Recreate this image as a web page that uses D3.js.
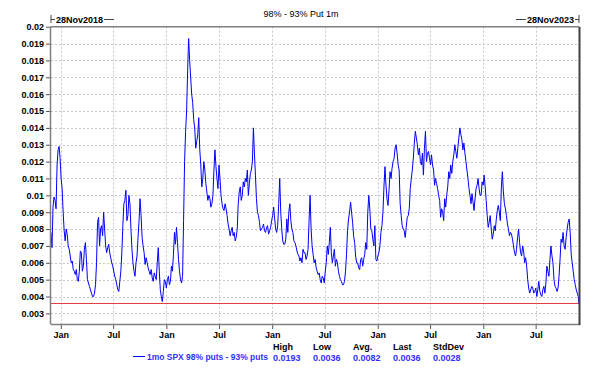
<!DOCTYPE html>
<html><head><meta charset="utf-8">
<script src="https://cdn.jsdelivr.net/npm/d3@7"></script>
<style>
html,body{margin:0;padding:0;background:#fff;}
svg text{font-family:"Liberation Sans",Arial,sans-serif;}
</style></head>
<body>
<svg id="c" width="602" height="377"></svg>
<script>
const title = "98% - 93% Put 1m";
const startLabel = "28Nov2018";
const endLabel = "28Nov2023";
const seriesName = "1mo SPX 98% puts - 93% puts";
const statNames = ["High", "Low", "Avg.", "Last", "StdDev"];
const statValues = ["0.0193", "0.0036", "0.0082", "0.0036", "0.0028"];
const yTickValues = [0.003,0.004,0.005,0.006,0.007,0.008,0.009,0.010,0.011,0.012,0.013,0.014,0.015,0.016,0.017,0.018,0.019,0.020];
const lastLevel = 0.0036;
const startDate = "2018-11-28";
const endDate = "2023-11-28";
// readings at each week start (Wednesdays from 28 Nov 2018)
const values = [
0.0078,0.0093,0.0097,0.0118,0.0129,0.0110,0.0090,0.0073,0.0077,0.0068,
0.0060,0.0056,0.0053,0.0050,0.0055,0.0066,0.0058,0.0072,0.0050,0.0046,
0.0042,0.0040,0.0047,0.0084,0.0070,0.0082,0.0090,0.0070,0.0069,0.0066,
0.0060,0.0055,0.0050,0.0044,0.0049,0.0066,0.0095,0.0103,0.0088,0.0095,
0.0068,0.0055,0.0060,0.0075,0.0098,0.0075,0.0066,0.0063,0.0057,0.0053,
0.0051,0.0054,0.0050,0.0069,0.0044,0.0037,0.0050,0.0045,0.0052,0.0049,
0.0055,0.0078,0.0081,0.0062,0.0050,0.0052,0.0120,0.0150,0.0193,0.0170,
0.0155,0.0140,0.0132,0.0146,0.0118,0.0110,0.0115,0.0102,0.0100,0.0093,
0.0100,0.0127,0.0110,0.0118,0.0100,0.0092,0.0095,0.0088,0.0080,0.0079,
0.0076,0.0073,0.0080,0.0102,0.0097,0.0108,0.0110,0.0115,0.0107,0.0115,
0.0140,0.0112,0.0090,0.0084,0.0080,0.0083,0.0078,0.0082,0.0079,0.0085,
0.0093,0.0080,0.0082,0.0110,0.0080,0.0071,0.0074,0.0078,0.0095,0.0080,
0.0073,0.0070,0.0065,0.0061,0.0060,0.0066,0.0062,0.0068,0.0100,0.0070,
0.0060,0.0057,0.0053,0.0050,0.0052,0.0048,0.0060,0.0065,0.0081,0.0060,
0.0068,0.0062,0.0055,0.0050,0.0047,0.0049,0.0065,0.0086,0.0096,0.0084,
0.0072,0.0060,0.0057,0.0062,0.0058,0.0065,0.0068,0.0100,0.0080,0.0074,
0.0082,0.0061,0.0066,0.0078,0.0090,0.0117,0.0098,0.0103,0.0110,0.0120,
0.0128,0.0125,0.0115,0.0088,0.0080,0.0075,0.0087,0.0092,0.0110,0.0122,
0.0138,0.0130,0.0128,0.0118,0.0112,0.0138,0.0125,0.0122,0.0124,0.0115,
0.0110,0.0104,0.0097,0.0092,0.0085,0.0093,0.0105,0.0110,0.0113,0.0124,
0.0126,0.0128,0.0140,0.0133,0.0131,0.0120,0.0110,0.0100,0.0101,0.0091,
0.0104,0.0110,0.0100,0.0108,0.0112,0.0097,0.0081,0.0088,0.0074,0.0082,
0.0086,0.0094,0.0085,0.0114,0.0095,0.0088,0.0080,0.0078,0.0074,0.0066,
0.0068,0.0080,0.0066,0.0070,0.0060,0.0058,0.0045,0.0044,0.0045,0.0043,
0.0040,0.0049,0.0041,0.0044,0.0042,0.0058,0.0052,0.0070,0.0060,0.0046,
0.0043,0.0052,0.0074,0.0078,0.0068,0.0080,0.0086,0.0065,0.0055,0.0047,
0.0042,0.0036
];
// readings half a week later (the other extreme of each week's swing)
const midValues = [
0.0069,0.0099,0.0092,0.0127,0.0122,0.0104,0.0079,0.0080,0.0070,0.0064,
0.0061,0.0055,0.0056,0.0049,0.0067,0.0055,0.0068,0.0062,0.0048,0.0044,
0.0040,0.0042,0.0060,0.0087,0.0080,0.0076,0.0080,0.0066,0.0071,0.0063,
0.0058,0.0052,0.0047,0.0043,0.0055,0.0082,0.0097,0.0085,0.0100,0.0080,
0.0060,0.0052,0.0064,0.0085,0.0088,0.0070,0.0059,0.0060,0.0055,0.0056,
0.0049,0.0052,0.0060,0.0055,0.0040,0.0043,0.0049,0.0050,0.0047,0.0058,
0.0065,0.0071,0.0072,0.0055,0.0048,0.0085,0.0138,0.0174,0.0180,0.0160,
0.0145,0.0128,0.0136,0.0127,0.0105,0.0120,0.0107,0.0097,0.0098,0.0095,
0.0115,0.0117,0.0104,0.0110,0.0095,0.0091,0.0092,0.0083,0.0076,0.0081,
0.0078,0.0075,0.0095,0.0105,0.0100,0.0105,0.0108,0.0100,0.0113,0.0120,
0.0125,0.0098,0.0088,0.0079,0.0081,0.0079,0.0081,0.0077,0.0081,0.0088,
0.0086,0.0078,0.0095,0.0090,0.0073,0.0071,0.0086,0.0090,0.0085,0.0078,
0.0072,0.0067,0.0064,0.0063,0.0068,0.0066,0.0064,0.0085,0.0080,0.0065,
0.0062,0.0055,0.0054,0.0048,0.0051,0.0055,0.0070,0.0072,0.0066,0.0064,
0.0058,0.0060,0.0052,0.0049,0.0047,0.0055,0.0079,0.0090,0.0090,0.0076,
0.0064,0.0060,0.0056,0.0063,0.0062,0.0072,0.0090,0.0092,0.0079,0.0070,
0.0062,0.0064,0.0070,0.0082,0.0105,0.0106,0.0094,0.0114,0.0116,0.0122,
0.0130,0.0118,0.0095,0.0082,0.0079,0.0081,0.0088,0.0104,0.0115,0.0131,
0.0134,0.0124,0.0120,0.0125,0.0128,0.0120,0.0126,0.0118,0.0118,0.0106,
0.0107,0.0100,0.0087,0.0090,0.0098,0.0100,0.0114,0.0118,0.0120,0.0130,
0.0122,0.0134,0.0136,0.0127,0.0125,0.0115,0.0104,0.0095,0.0096,0.0098,
0.0106,0.0104,0.0100,0.0106,0.0105,0.0088,0.0084,0.0080,0.0077,0.0079,
0.0091,0.0090,0.0105,0.0102,0.0092,0.0083,0.0076,0.0077,0.0070,0.0064,
0.0075,0.0072,0.0064,0.0067,0.0063,0.0050,0.0042,0.0046,0.0042,0.0045,
0.0044,0.0043,0.0040,0.0046,0.0048,0.0055,0.0062,0.0064,0.0050,0.0045,
0.0045,0.0062,0.0072,0.0070,0.0075,0.0084,0.0078,0.0060,0.0050,0.0044,
0.0040
];

const parse = d3.timeParse("%Y-%m-%d");
const t0 = parse(startDate), t1 = parse(endDate);
const data = [];
values.forEach((v, i) => {
  let d = d3.timeDay.offset(t0, 7 * i);
  if (i === values.length - 1 || d > t1) d = t1;
  data.push({date: d, value: v});
  if (i < midValues.length) {
    data.push({date: d3.timeHour.offset(d3.timeDay.offset(t0, 7 * i), 84), value: midValues[i]});
  }
});
data.sort((a, b) => a.date - b.date);

const svg = d3.select("#c");
const L = 51, R = 579, T = 26.7, B = 324;
const x = d3.scaleTime().domain([t0, t1]).range([L, R]);
const y = d3.scaleLinear().domain([0.00237, 0.02]).range([B, T]);

const fmtY = v => String(+v.toFixed(3));
const xTicks = d3.timeMonth.range(t0, t1).filter(d => d.getMonth() === 0 || d.getMonth() === 6);
const fmtX = d3.timeFormat("%b");

// grid
const grid = svg.append("g");
grid.selectAll("line.h").data(yTickValues.filter(v => v < 0.0199)).join("line")
  .attr("x1", L).attr("x2", R).attr("y1", d => Math.round(y(d)) + 0.5).attr("y2", d => Math.round(y(d)) + 0.5)
  .attr("stroke", "#c8c8c8").attr("stroke-dasharray", "2,2");
grid.selectAll("line.v").data(xTicks).join("line")
  .attr("x1", d => Math.round(x(d)) + 0.5).attr("x2", d => Math.round(x(d)) + 0.5).attr("y1", T).attr("y2", B)
  .attr("stroke", "#c8c8c8").attr("stroke-dasharray", "2,2");

// red last line
svg.append("line").attr("x1", L).attr("x2", R)
  .attr("y1", Math.round(y(lastLevel)) + 0.5).attr("y2", Math.round(y(lastLevel)) + 0.5)
  .attr("stroke", "#e04040").attr("stroke-width", 1);

// series
const line = d3.line().x(d => x(d.date)).y(d => y(d.value));
svg.append("path").datum(data).attr("d", line)
  .attr("fill", "none").attr("stroke", "#0000ff").attr("stroke-width", 1);

// axes
const yAxis = d3.axisLeft(y).tickValues(yTickValues).tickFormat(fmtY).tickSize(5).tickPadding(2);
const gy = svg.append("g").attr("transform", `translate(${L},0)`).call(yAxis);
gy.select(".domain").remove();
gy.selectAll("text").attr("font-size", 9).attr("font-weight", "bold").attr("fill", "#000");
gy.selectAll("line").attr("stroke", "#555");

const xAxis = d3.axisBottom(x).tickValues(xTicks).tickFormat(fmtX).tickSize(5).tickPadding(3);
const gx = svg.append("g").attr("transform", `translate(0,${B})`).call(xAxis);
gx.select(".domain").remove();
gx.selectAll("text").attr("font-size", 9).attr("font-weight", "bold").attr("fill", "#000");
gx.selectAll("line").attr("stroke", "#555");

// frame
svg.append("line").attr("x1", L - 0.5).attr("x2", L - 0.5).attr("y1", T).attr("y2", B + 0.5).attr("stroke", "#808080").attr("stroke-width", 1.5);
svg.append("line").attr("x1", L).attr("x2", R).attr("y1", T).attr("y2", T).attr("stroke", "#808080").attr("stroke-width", 1.5);
svg.append("line").attr("x1", L).attr("x2", R + 1).attr("y1", B + 0.5).attr("y2", B + 0.5).attr("stroke", "#808080").attr("stroke-width", 1.5);
svg.append("line").attr("x1", R + 0.5).attr("x2", R + 0.5).attr("y1", T).attr("y2", B + 1).attr("stroke", "#404040").attr("stroke-width", 2);

// title
svg.append("text").attr("x", 301).attr("y", 17).attr("text-anchor", "middle")
  .attr("font-size", 9).attr("fill", "#000").text(title);

// date range markers
const tm = svg.append("g").attr("font-size", 9).attr("font-weight", "bold");
tm.append("line").attr("x1", L).attr("x2", L).attr("y1", 15).attr("y2", 23).attr("stroke", "#444");
tm.append("line").attr("x1", L).attr("x2", L + 4).attr("y1", 19.5).attr("y2", 19.5).attr("stroke", "#444");
const st = tm.append("text").attr("x", L + 5).attr("y", 22.5).text(startLabel);
const sw = st.node().getComputedTextLength();
tm.append("line").attr("x1", L + 6 + sw).attr("x2", L + 16 + sw).attr("y1", 19.5).attr("y2", 19.5).attr("stroke", "#444");
tm.append("line").attr("x1", R).attr("x2", R).attr("y1", 15).attr("y2", 23).attr("stroke", "#444");
tm.append("line").attr("x1", R - 4).attr("x2", R).attr("y1", 19.5).attr("y2", 19.5).attr("stroke", "#444");
const et = tm.append("text").attr("x", R - 5).attr("y", 22.5).attr("text-anchor", "end").text(endLabel);
const ew = et.node().getComputedTextLength();
tm.append("line").attr("x1", R - 16 - ew).attr("x2", R - 6 - ew).attr("y1", 19.5).attr("y2", 19.5).attr("stroke", "#444");

// legend
const lg = svg.append("g").attr("font-size", 9).attr("font-weight", "bold");
lg.append("line").attr("x1", 133).attr("x2", 145).attr("y1", 356.5).attr("y2", 356.5).attr("stroke", "#0000ff");
lg.append("text").attr("x", 147).attr("y", 360).attr("fill", "#3030ff")
  .attr("textLength", 121).attr("lengthAdjust", "spacingAndGlyphs").text(seriesName);
const colX = [273, 313, 353, 393, 433];
statNames.forEach((n, i) => {
  lg.append("text").attr("x", colX[i]).attr("y", 350).attr("fill", "#000").text(n);
  lg.append("text").attr("x", colX[i]).attr("y", 361).attr("fill", "#3030ff").text(statValues[i]);
});
</script>
</body></html>
